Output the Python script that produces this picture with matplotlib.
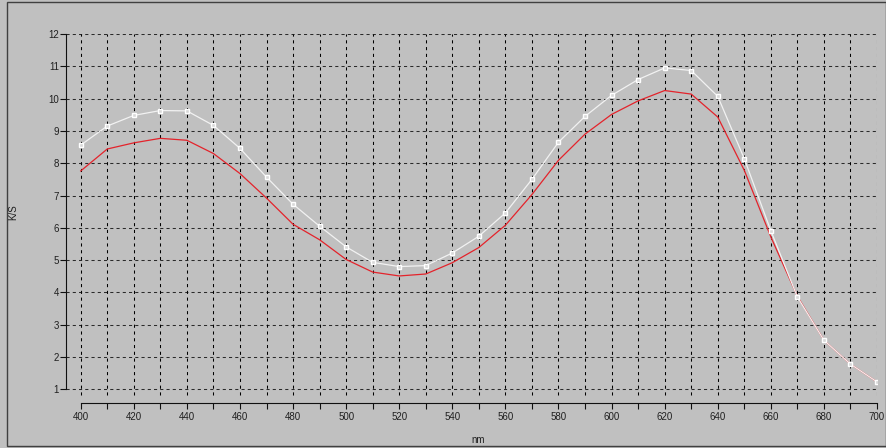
import numpy as np
import matplotlib
matplotlib.use('Agg')
import matplotlib.pyplot as plt
from matplotlib.patches import Rectangle

plt.rcParams['font.family'] = ['Liberation Sans', 'DejaVu Sans']
plt.rcParams['font.size'] = 7

nm = list(range(400, 701, 10))
ks_white = [8.56, 9.15, 9.48, 9.63, 9.62, 9.17, 8.46, 7.57, 6.73, 6.05, 5.41,
            4.93, 4.80, 4.83, 5.22, 5.74, 6.46, 7.50, 8.65, 9.45, 10.10,
            10.59, 10.95, 10.87, 10.07, 8.14, 5.91, 3.86, 2.52, 1.78, 1.23]
ks_red = [7.76, 8.44, 8.63, 8.77, 8.71, 8.30, 7.68, 6.92, 6.11, 5.63, 5.02,
          4.63, 4.51, 4.57, 4.92, 5.39, 6.08, 7.03, 8.09, 8.90, 9.51,
          9.93, 10.25, 10.14, 9.43, 7.78, 5.72, 3.88, 2.52, 1.78, 1.23]
y_ticks = list(range(1, 13))
x_major = list(range(400, 701, 20))
x_minor = list(range(410, 700, 20))

bg = '#c0c0c0'
fig = plt.figure(figsize=(8.87, 4.48), dpi=100, facecolor=bg)
ax = fig.add_axes([66/887, 1-402.7/448, (877-66)/887, (402.7-34)/448])
ax.set_facecolor(bg)

x0 = 400 - 14.7/2.654
ax.set_xlim(x0, 700)
ax.set_ylim(0.586, 12)

# grid
ax.hlines(y_ticks, x0, 700, colors='#2a2a2a', linestyles=(0, (3, 3)), lw=0.75, zorder=1)
ax.vlines(nm, 0.82, 12, colors='black', linestyles=(0, (3, 3.5)), lw=0.75, zorder=1)

ax.plot(nm, ks_red, color='#e4232b', lw=0.9, zorder=3)
ax.plot(nm, ks_white, color='#f2f2f2', lw=0.9, marker='s', ms=3,
        mfc='#d8d8d8', mec='white', mew=1, zorder=4)

for s in ['top', 'right']:
    ax.spines[s].set_visible(False)
ax.spines['left'].set_bounds(1, 12)
ax.spines['bottom'].set_bounds(400, 700)
for s in ['left', 'bottom']:
    ax.spines[s].set_color('#101010')
    ax.spines[s].set_linewidth(0.8)

ax.set_yticks(y_ticks)
ax.set_xticks(x_major)
ax.set_xticks(x_minor, minor=True)
ax.tick_params(axis='y', length=4, width=0.8, pad=1, colors='#101010', labelcolor='#202020')
ax.tick_params(axis='x', which='both', length=4, width=0.8, pad=3, colors='#101010', labelcolor='#202020')

fig.text(13/887, 1-212/448, 'K/S', rotation=90, ha='center', va='center', color='#202020')
fig.text(478/887, 1-440/448, 'nm', ha='center', va='center', color='#202020')

fig.add_artist(Rectangle((7/887, 2/448), 879/887, 444/448, transform=fig.transFigure,
                         fill=False, edgecolor='#404040', lw=1))

plt.savefig('out.png', dpi=100, facecolor=bg)
